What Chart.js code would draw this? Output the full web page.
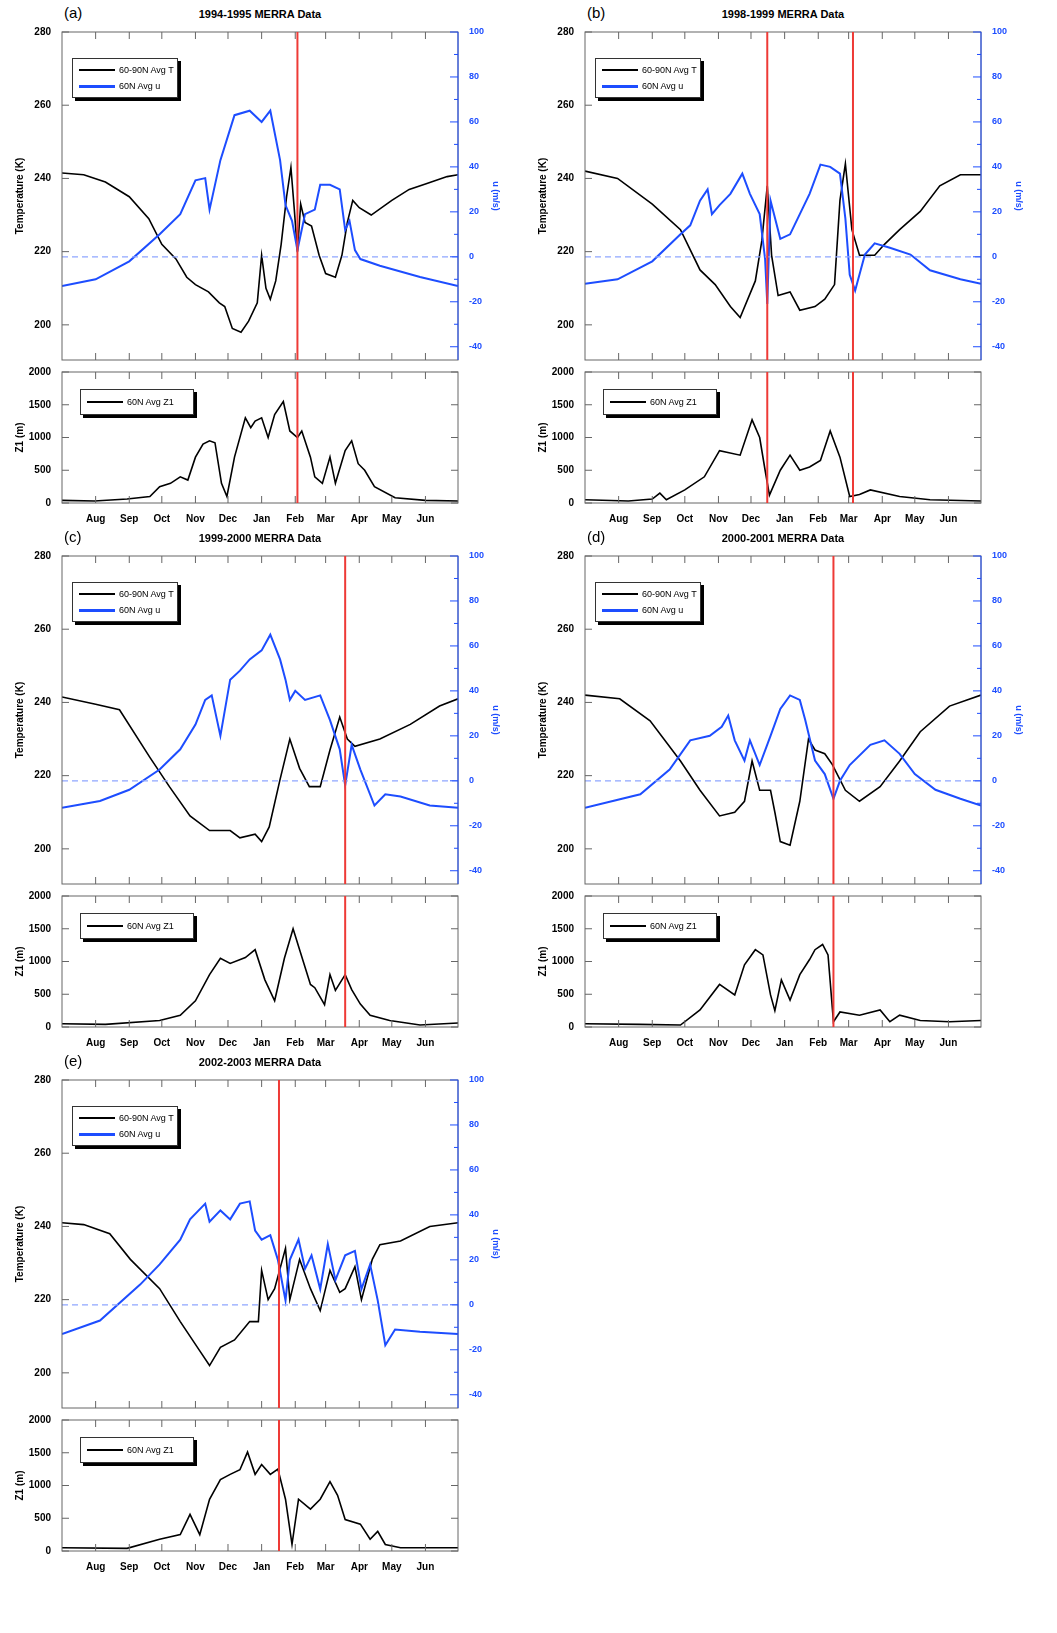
<!DOCTYPE html>
<html><head><meta charset="utf-8">
<script src="https://cdn.jsdelivr.net/npm/chart.js@4/dist/chart.umd.min.js"></script>
<style>
body{margin:0;background:#fff;width:1057px;height:1633px;position:relative;font-family:"Liberation Sans",Arial,sans-serif;}
canvas{position:absolute;}
.t{position:absolute;font-weight:bold;font-size:11px;text-align:center;width:396px;}
.p{position:absolute;font-size:15px;}
.lg{position:absolute;border:1px solid #333;background:#fff;box-shadow:3px 3px 0 #000;font-size:9px;}
.lg div{position:relative;height:16px;line-height:16px;padding-left:46px;}
.lg span{position:absolute;left:6px;top:7px;width:36px;height:2px;}
</style></head><body>
<script>
const months=["Aug","Sep","Oct","Nov","Dec","Jan","Feb","Mar","Apr","May","Jun"];
const monthStarts=[31,62,92,123,153,184,215,243,274,304,335];
const tTicks=[200,220,240,260,280];
const uTicks=[-40,-20,0,20,40,60,80,100];
const zTicks=[0,500,1000,1500,2000];
const titles=["1994-1995 MERRA Data","1998-1999 MERRA Data","1999-2000 MERRA Data","2000-2001 MERRA Data","2002-2003 MERRA Data"];
const letters=["(a)","(b)","(c)","(d)","(e)"];

const aT=[[0,241.5],[20,241],[40,239],[62,235],[80,229],[92,222],[105,218],[115,213],[123,211],[135,209],[145,206],[150,205],[157,199],[165,198],[172,201],[180,206],[184,219],[188,210],[192,207],[197,212],[202,222],[207,235],[211,243],[214,232],[217,220],[220,233],[224,228],[230,227],[237,219],[243,214],[252,213],[258,219],[263,228],[268,234],[274,232],[285,230],[304,234],[320,237],[335,238.5],[355,240.5],[365,241]];
const aU=[[0,-13],[31,-10],[62,-2],[90,10],[109,19],[123,34],[132,35],[136,21],[146,43],[159,63],[173,65],[184,60],[192,65],[201,43],[206,23],[212,16],[217,3],[224,19],[233,21],[238,32],[247,32],[256,30],[261,12],[265,16],[270,3],[275,-1],[293,-4],[330,-9],[365,-13]];
const aZ=[[0,40],[30,30],[60,60],[81,100],[90,250],[100,300],[109,400],[116,350],[123,700],[130,900],[136,950],[141,920],[147,300],[152,100],[159,700],[169,1300],[174,1150],[178,1250],[184,1300],[190,1000],[196,1350],[204,1550],[210,1100],[217,1000],[221,1100],[229,700],[233,400],[240,300],[247,700],[252,300],[261,800],[267,950],[273,600],[279,500],[288,250],[307,80],[335,40],[365,30]];
const aRed=[217];

const bT=[[0,242],[30,240],[62,233],[88,226],[106,215],[120,211],[134,205],[143,202],[157,212],[163,223],[168,238],[172,219],[178,208],[189,209],[198,204],[212,205],[221,207],[230,211],[235,234],[240,244],[246,226],[253,219],[267,219],[276,222],[290,226],[309,231],[327,238],[346,241],[365,241]];
const bU=[[0,-12],[30,-10],[62,-2],[88,10],[97,14],[106,25],[113,30],[117,19],[124,23],[134,28],[145,37],[152,28],[161,19],[166,-1],[168,-21],[171,25],[180,8],[189,10],[198,19],[207,28],[217,41],[226,40],[235,37],[240,17],[244,-8],[249,-15],[258,1],[267,6],[281,4],[300,1],[318,-6],[346,-10],[365,-12]];
const bZ=[[0,50],[40,30],[62,60],[69,150],[75,50],[92,200],[110,400],[124,800],[143,730],[154,1270],[161,1000],[166,500],[170,120],[180,500],[189,730],[198,500],[207,550],[217,650],[226,1100],[235,700],[244,100],[253,130],[263,200],[290,100],[318,50],[365,30]];
const bRed=[168,247];

const cT=[[0,241.5],[31,239.5],[53,238],[81,225],[99,217],[118,209],[136,205],[155,205],[164,203],[178,204],[184,202],[191,206],[201,219],[210,230],[219,222],[228,217],[238,217],[247,227],[256,236],[263,230],[270,228],[293,230],[321,234],[348,239],[365,241]];
const cU=[[0,-12],[35,-9],[62,-4],[90,5],[109,14],[123,25],[132,36],[138,38],[146,20],[155,45],[164,49],[173,54],[184,58],[192,65],[201,54],[206,45],[210,36],[215,40],[224,36],[238,38],[247,27],[256,14],[261,-2],[267,16],[275,5],[288,-11],[298,-6],[312,-7],[339,-11],[365,-12]];
const cZ=[[0,50],[40,40],[90,100],[109,180],[123,400],[136,800],[146,1050],[155,970],[169,1060],[178,1180],[187,720],[196,400],[205,1050],[213,1500],[219,1180],[229,650],[233,600],[242,340],[247,800],[252,560],[261,800],[267,570],[275,350],[284,180],[302,100],[330,30],[365,60]];
const cRed=[261];

const dT=[[0,242],[32,241],[60,235],[88,224],[106,216],[124,209],[138,210],[147,213],[154,224],[161,216],[171,216],[175,210],[180,202],[189,201],[198,213],[206,230],[212,227],[221,226],[228,223],[240,216],[253,213],[272,217],[290,224],[309,232],[336,239],[365,242]];
const dU=[[0,-12],[51,-6],[78,5],[97,18],[115,20],[126,24],[132,29],[138,18],[147,9],[152,18],[161,7],[171,20],[180,32],[189,38],[198,36],[203,27],[212,9],[221,3],[229,-8],[235,0],[244,7],[263,16],[276,18],[290,12],[304,3],[323,-4],[346,-8],[365,-11]];
const dZ=[[0,50],[50,40],[88,30],[106,260],[124,650],[138,490],[147,950],[157,1180],[164,1100],[171,490],[175,250],[181,720],[189,410],[198,800],[207,1030],[212,1180],[219,1260],[224,1100],[229,80],[235,230],[253,180],[272,260],[281,80],[290,180],[309,100],[336,80],[365,100]];
const dRed=[229];

const eT=[[0,241],[20,240.5],[44,238],[63,231],[90,223],[109,214],[127,206],[136,202],[146,207],[159,209],[173,214],[181,214],[184,228],[190,220],[196,223],[206,234],[210,220],[219,231],[229,223],[238,217],[247,228],[256,222],[261,223],[270,229],[276,220],[286,231],[293,235],[312,236],[339,240],[365,241]];
const eU=[[0,-13],[35,-7],[72,9],[90,18],[109,29],[118,38],[132,45],[136,37],[146,42],[155,38],[164,45],[173,46],[178,33],[184,29],[192,31],[199,20],[206,2],[210,20],[218,29],[224,16],[230,22],[238,7],[245,27],[252,11],[261,22],[270,24],[276,7],[284,18],[291,2],[298,-18],[307,-11],[330,-12],[365,-13]];
const eZ=[[0,50],[60,40],[90,180],[109,250],[118,560],[127,250],[136,790],[146,1090],[155,1170],[164,1240],[171,1510],[178,1170],[184,1320],[192,1170],[199,1250],[206,790],[212,100],[218,790],[229,640],[238,790],[247,1060],[254,850],[261,480],[275,410],[284,180],[291,300],[298,100],[312,50],[365,50]];
const eRed=[200];

const panels=[[aT,aU,aZ,aRed,0,0],[bT,bU,bZ,bRed,523,0],[cT,cU,cZ,cRed,0,524],[dT,dU,dZ,dRed,523,524],[eT,eU,eZ,eRed,0,1048]];
const BLUE="#1d4dff", RED="#ee3a36";
const pts=a=>a.map(p=>({x:p[0],y:p[1]}));
const font={family:"Liberation Sans",size:10,weight:"bold"};

const decor={id:"decor",afterDatasetsDraw(ch,args,o){
  const {ctx,chartArea:a,scales}=ch;const x=scales.x;
  ctx.save();ctx.strokeStyle="#666";ctx.lineWidth=1;
  ctx.strokeRect(a.left,a.top,a.width,a.height);
  monthStarts.forEach(d=>{const px=x.getPixelForValue(d);
    ctx.beginPath();ctx.moveTo(px,a.top);ctx.lineTo(px,a.top+7);ctx.moveTo(px,a.bottom);ctx.lineTo(px,a.bottom-7);ctx.stroke();});
  const yl=scales.y;
  yl.ticks.forEach(t=>{const py=yl.getPixelForValue(t.value);ctx.beginPath();ctx.moveTo(a.left,py);ctx.lineTo(a.left+7,py);ctx.stroke();
    if(!scales.u){ctx.beginPath();ctx.moveTo(a.right,py);ctx.lineTo(a.right-7,py);ctx.stroke();}});
  if(scales.u){ctx.strokeStyle=BLUE;const u=scales.u;
    ctx.beginPath();ctx.moveTo(a.right,a.top);ctx.lineTo(a.right,a.bottom);ctx.stroke();
    for(let v=-40;v<=100;v+=10){const py=u.getPixelForValue(v);ctx.beginPath();ctx.moveTo(a.right,py);ctx.lineTo(a.right-(v%20?4:8),py);ctx.stroke();}}
  ctx.strokeStyle=RED;ctx.lineWidth=2;
  o.red.forEach(d=>{const px=x.getPixelForValue(d);ctx.beginPath();ctx.moveTo(px,a.top);ctx.lineTo(px,a.bottom);ctx.stroke();});
  ctx.restore();}};

function fixW(w){return s=>{s.width=w;};}
function setTicks(arr){return s=>{s.ticks=arr.map(v=>({value:v}));};}
const plain=v=>String(v);

function addCanvas(l,t,w,h){const c=document.createElement("canvas");c.style.left=l+"px";c.style.top=t+"px";c.style.width=w+"px";c.style.height=h+"px";c.width=w;c.height=h;document.body.appendChild(c);return c;}
function addDiv(cls,l,t,html,extra){const d=document.createElement("div");d.className=cls;d.style.left=l+"px";d.style.top=t+"px";d.innerHTML=html;if(extra)Object.assign(d.style,extra);document.body.appendChild(d);return d;}

panels.forEach((p,i)=>{
  const [T,U,Z,red,dx,dy]=p;
  addDiv("t",62+dx,8+dy,titles[i]);
  addDiv("p",64+dx,4+dy,letters[i]);
  const c1=addCanvas(12+dx,22+dy,491,348);
  new Chart(c1,{type:"line",data:{datasets:[
    {data:[{x:0,y:0},{x:365,y:0}],yAxisID:"u",borderColor:"#8fa6ff",borderDash:[6,4],borderWidth:1.2,pointRadius:0},
    {data:pts(U),yAxisID:"u",borderColor:BLUE,borderWidth:2,pointRadius:0,tension:0},
    {data:pts(T),yAxisID:"y",borderColor:"#000",borderWidth:1.6,pointRadius:0,tension:0}]},
    options:{animation:false,responsive:false,devicePixelRatio:1,layout:{padding:{top:10,bottom:10}},
      plugins:{legend:{display:false},tooltip:{enabled:false},decor:{red}},
      scales:{x:{type:"linear",min:0,max:365,display:false},
        y:{position:"left",min:190.4,max:280,afterFit:fixW(50),afterBuildTicks:setTicks(tTicks),grid:{display:false},border:{display:false},
          ticks:{color:"#000",font,callback:plain},title:{display:true,text:"Temperature (K)",color:"#000",font,padding:2}},
        u:{position:"right",min:-45.9,max:100,afterFit:fixW(45),afterBuildTicks:setTicks(uTicks),grid:{display:false},border:{display:false},
          ticks:{color:BLUE,font:{family:"Liberation Sans",size:9,weight:"bold"},callback:plain},title:{display:true,text:"u (m/s)",color:BLUE,font:{family:"Liberation Sans",size:9,weight:"bold"},padding:2}}}},
    plugins:[decor]});
  const c2=addCanvas(12+dx,362+dy,491,163);
  new Chart(c2,{type:"line",data:{datasets:[
    {data:pts(Z),borderColor:"#000",borderWidth:1.6,pointRadius:0,tension:0}]},
    options:{animation:false,responsive:false,devicePixelRatio:1,layout:{padding:{top:10,right:45}},
      plugins:{legend:{display:false},tooltip:{enabled:false},decor:{red}},
      scales:{x:{type:"linear",min:0,max:365,afterFit:s=>{s.height=22;},afterBuildTicks:setTicks(monthStarts),grid:{display:false},border:{display:false},
          ticks:{color:"#000",font,autoSkip:false,maxRotation:0,padding:2,callback:(v)=>months[monthStarts.indexOf(v)]}},
        y:{min:0,max:2000,afterFit:fixW(50),afterBuildTicks:setTicks(zTicks),grid:{display:false},border:{display:false},
          ticks:{color:"#000",font,callback:plain},title:{display:true,text:"Z1 (m)",color:"#000",font,padding:2}}}},
    plugins:[decor]});
  addDiv("lg",72+dx,58+dy,'<div><span style="background:#000"></span>60-90N Avg T</div><div><span style="background:'+BLUE+';height:3px"></span>60N Avg u</div>',{width:104+"px",padding:"3px 0"});
  addDiv("lg",80+dx,389+dy,'<div><span style="background:#000"></span>60N Avg Z1</div>',{width:112+"px",padding:"4px 0"});
});
</script>
</body></html>
